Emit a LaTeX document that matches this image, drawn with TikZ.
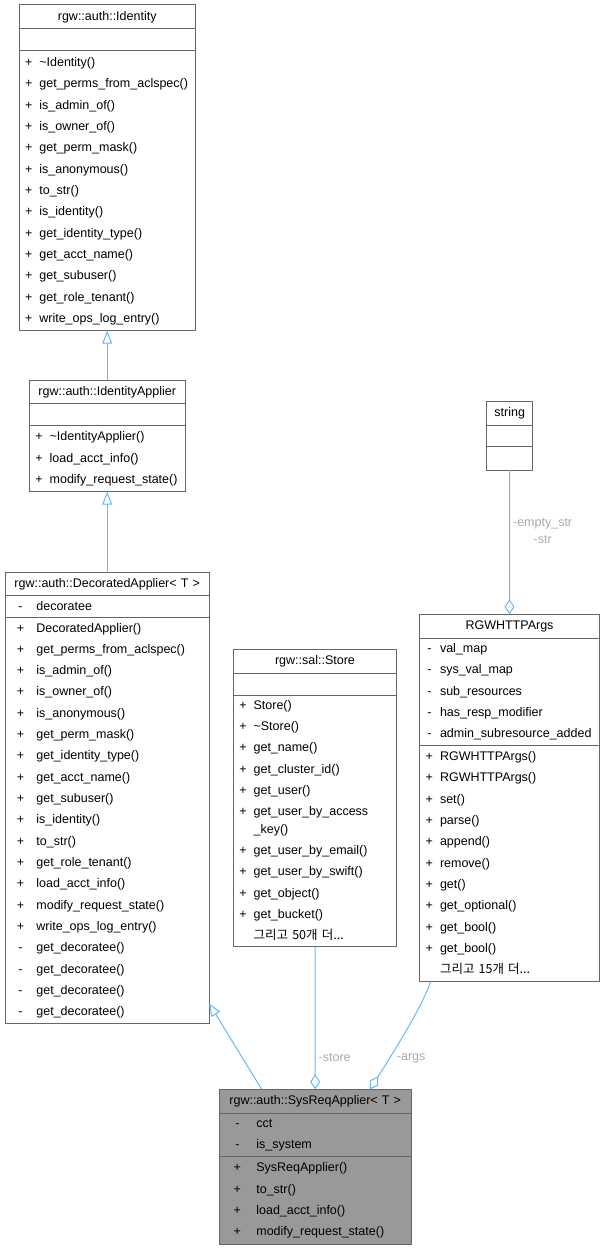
\documentclass[tikz,border=0pt]{standalone}
\usepackage{fontspec}
\setmainfont{Liberation Sans}
\newfontfamily\kofont{Noto Sans CJK KR}
\usepackage{xcolor}
\usepackage{tikz}
\usetikzlibrary{positioning,arrows.meta}
\definecolor{classborder}{RGB}{102,102,102}
\definecolor{edgeblue}{RGB}{99,184,255}
\definecolor{labelgray}{RGB}{170,170,170}
\definecolor{focusgray}{RGB}{153,153,153}
\newcommand{\umlfont}{\fontsize{12.5pt}{21.33pt}\selectfont}
\newcommand{\rowstrut}{\rule[-7pt]{0pt}{21.33pt}}
\newcommand{\member}[3][7.3pt]{\rowstrut\makebox[#1][c]{#2}\hspace{7pt}#3}
\tikzset{
  class-title/.style={draw=classborder, line width=1pt, outer sep=0pt,
    inner xsep=6pt, inner ysep=0pt, anchor=north, text width=#1,
    align=center, font=\umlfont},
  class-part/.style={class-title=#1, align=left},
  focus-part/.style={fill=focusgray},
  inherit-arrow/.style={-{Triangle[open, length=13pt, width=10pt]}, line width=1pt, draw=edgeblue},
  aggregate-arrow/.style={-{Diamond[open, length=15pt, width=10pt]}, line width=1pt, draw=edgeblue},
  edge-label/.style={font=\fontsize{12.5pt}{17pt}\selectfont, text=labelgray, align=center, inner sep=0pt}
}

\begin{document}
\begin{tikzpicture}[x=1pt, y=1pt]
\useasboundingbox (0,0) rectangle (605,-1249);

% Base class: Identity
\node[class-title=164.3pt, minimum height=24.3pt] (identity) at (107.2,-4.7) {\rowstrut rgw::auth::Identity};
\node[class-part=164.3pt, minimum height=22pt, below=0pt of identity] (identity-a) {};
\node[class-part=164.3pt, minimum height=279.7pt, below=0pt of identity-a] (identity-m) {%
  \member{+}{\textasciitilde Identity()}\\
  \member{+}{get\_perms\_from\_aclspec()}\\
  \member{+}{is\_admin\_of()}\\
  \member{+}{is\_owner\_of()}\\
  \member{+}{get\_perm\_mask()}\\
  \member{+}{is\_anonymous()}\\
  \member{+}{to\_str()}\\
  \member{+}{is\_identity()}\\
  \member{+}{get\_identity\_type()}\\
  \member{+}{get\_acct\_name()}\\
  \member{+}{get\_subuser()}\\
  \member{+}{get\_role\_tenant()}\\
  \member{+}{write\_ops\_log\_entry()}};

% IdentityApplier
\node[class-title=143.7pt, minimum height=23.3pt, below=49.3pt of identity-m] (identityapplier) {\rowstrut rgw::auth::IdentityApplier};
\node[class-part=143.7pt, minimum height=22pt, below=0pt of identityapplier] (identityapplier-a) {};
\node[class-part=143.7pt, minimum height=66.4pt, below=0pt of identityapplier-a] (identityapplier-m) {%
  \member{+}{\textasciitilde IdentityApplier()}\\
  \member{+}{load\_acct\_info()}\\
  \member{+}{modify\_request\_state()}};

% DecoratedApplier
\node[class-title=191.6pt, minimum height=23pt, below=81pt of identityapplier-m] (decorated) {\rowstrut rgw::auth::DecoratedApplier< T >};
\node[class-part=191.6pt, minimum height=21.6pt, below=0pt of decorated] (decorated-a) {\member[18pt]{-}{decoratee}};
\node[class-part=191.6pt, minimum height=406pt, below=0pt of decorated-a] (decorated-m) {%
  \member[18pt]{+}{DecoratedApplier()}\\
  \member[18pt]{+}{get\_perms\_from\_aclspec()}\\
  \member[18pt]{+}{is\_admin\_of()}\\
  \member[18pt]{+}{is\_owner\_of()}\\
  \member[18pt]{+}{is\_anonymous()}\\
  \member[18pt]{+}{get\_perm\_mask()}\\
  \member[18pt]{+}{get\_identity\_type()}\\
  \member[18pt]{+}{get\_acct\_name()}\\
  \member[18pt]{+}{get\_subuser()}\\
  \member[18pt]{+}{is\_identity()}\\
  \member[18pt]{+}{to\_str()}\\
  \member[18pt]{+}{get\_role\_tenant()}\\
  \member[18pt]{+}{load\_acct\_info()}\\
  \member[18pt]{+}{modify\_request\_state()}\\
  \member[18pt]{+}{write\_ops\_log\_entry()}\\
  \member[18pt]{-}{get\_decoratee()}\\
  \member[18pt]{-}{get\_decoratee()}\\
  \member[18pt]{-}{get\_decoratee()}\\
  \member[18pt]{-}{get\_decoratee()}};

% Store
\node[class-title=151.4pt, minimum height=24pt] (store) at (315,-649.3) {\rowstrut rgw::sal::Store};
\node[class-part=151.4pt, minimum height=21.7pt, below=0pt of store] (store-a) {};
\node[class-part=151.4pt, minimum height=251.7pt, below=0pt of store-a] (store-m) {%
  \member{+}{Store()}\\
  \member{+}{\textasciitilde Store()}\\
  \member{+}{get\_name()}\\
  \member{+}{get\_cluster\_id()}\\
  \member{+}{get\_user()}\\
  \member{+}{get\_user\_by\_access}\\[-4pt]
  \member{}{\_key()}\\
  \member{+}{get\_user\_by\_email()}\\
  \member{+}{get\_user\_by\_swift()}\\
  \member{+}{get\_object()}\\
  \member{+}{get\_bucket()}\\
  \member{}{{\kofont 그리고 50개 더...}}};

% string
\node[class-title=34pt, minimum height=24pt] (string) at (509.7,-401) {\rowstrut string};
\node[class-part=34pt, minimum height=21.7pt, below=0pt of string] (string-a) {};
\node[class-part=34pt, minimum height=23.3pt, below=0pt of string-a] (string-m) {};

% RGWHTTPArgs
\node[class-title=167.6pt, minimum height=24pt] (args) at (509.5,-614.3) {\rowstrut RGWHTTPArgs};
\node[class-part=167.6pt, minimum height=106.7pt, below=0pt of args] (args-a) {%
  \member{-}{val\_map}\\
  \member{-}{sys\_val\_map}\\
  \member{-}{sub\_resources}\\
  \member{-}{has\_resp\_modifier}\\
  \member{-}{admin\_subresource\_added}};
\node[class-part=167.6pt, minimum height=236.7pt, below=0pt of args-a] (args-m) {%
  \member{+}{RGWHTTPArgs()}\\
  \member{+}{RGWHTTPArgs()}\\
  \member{+}{set()}\\
  \member{+}{parse()}\\
  \member{+}{append()}\\
  \member{+}{remove()}\\
  \member{+}{get()}\\
  \member{+}{get\_optional()}\\
  \member{+}{get\_bool()}\\
  \member{+}{get\_bool()}\\
  \member{}{{\kofont 그리고 15개 더...}}};

% SysReqApplier (focus class)
\node[class-title=179.7pt, focus-part, minimum height=24pt] (sysreq) at (315.2,-1089.3) {\rowstrut rgw::auth::SysReqApplier< T >};
\node[class-part=179.7pt, focus-part, minimum height=42.7pt, below=0pt of sysreq] (sysreq-a) {%
  \member[24pt]{-}{cct}\\
  \member[24pt]{-}{is\_system}};
\node[class-part=179.7pt, focus-part, minimum height=88pt, below=0pt of sysreq-a] (sysreq-m) {%
  \member[24pt]{+}{SysReqApplier()}\\
  \member[24pt]{+}{to\_str()}\\
  \member[24pt]{+}{load\_acct\_info()}\\
  \member[24pt]{+}{modify\_request\_state()}};

% Inheritance
\draw[inherit-arrow] (identityapplier) -- (identity-m);
\draw[inherit-arrow] (decorated) -- (identityapplier-m);
\draw[inherit-arrow] ([xshift=-53.5pt]sysreq.north) -- ([yshift=20pt]decorated-m.south east);

% Aggregation
\draw[aggregate-arrow] (string-m) -- node[edge-label, pos=0.42, right=3pt] {-empty\_str\\-str} (args);
\draw[aggregate-arrow] (store-m) -- node[edge-label, pos=0.78, right=3pt] {-store} (sysreq);
\draw[aggregate-arrow] ([xshift=-78.8pt]args-m.south) .. controls +(-8,-23) and +(28,44) .. ([xshift=54.8pt]sysreq.north)
  node[edge-label, pos=0.76, right=7pt] {-args};
\end{tikzpicture}
\end{document}
